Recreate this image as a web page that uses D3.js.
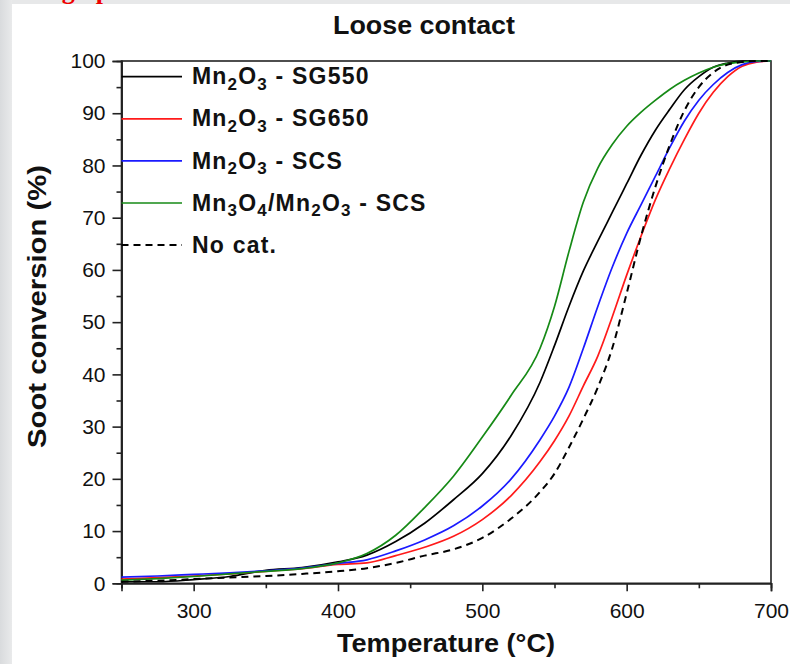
<!DOCTYPE html>
<html>
<head>
<meta charset="utf-8">
<script src="https://cdn.jsdelivr.net/npm/d3@7"></script>
<style>
  html, body { margin: 0; padding: 0; background: #fff; }
  svg { display: block; }
</style>
</head>
<body>
<div id="chart"></div>
<script>
// temperatures (°C) at which the curves were read
const temps = [250, 275, 300, 325, 350, 375, 400, 420, 440, 460, 480, 500, 520, 540, 550,
               560, 570, 580, 590, 600, 610, 620, 630, 640, 650, 660, 670, 680, 690, 700];

// soot conversion (%) for each sample
const sg550 = [0.3, 0.3, 0.7, 1.3, 2.5, 3.0, 4.1, 5.4, 8.0, 11.5, 16, 21, 28.3, 38.5, 45.5,
               53, 59.8, 65.5, 71, 76.5, 82, 86.8, 90.8, 94.5, 97, 98.8, 99.6, 100, 100, 100];
const sg650 = [0.8, 1.1, 1.4, 1.8, 2.3, 2.8, 3.6, 3.9, 5.3, 6.9, 9.0, 12.2, 16.8, 23.3, 27.3,
               32, 37.8, 43.5, 51, 59, 66.5, 73.5, 79.5, 85, 90, 94, 97, 99, 99.8, 100];
const scs = [1.2, 1.4, 1.7, 2.0, 2.4, 2.9, 3.8, 4.5, 6.2, 8.3, 11.0, 14.8, 20, 27.5, 32,
             37.5, 45, 53, 60.5, 67, 72.5, 78, 83.5, 88.5, 92.5, 95.5, 97.8, 99.3, 99.9, 100];
const mixScs = [0.6, 0.9, 1.3, 1.8, 2.3, 2.8, 3.9, 5.7, 9.2, 14.5, 20.5, 28, 36, 45, 53,
                63.5, 73, 79.5, 84, 87.5, 90.2, 92.5, 94.6, 96.3, 97.7, 98.8, 99.5, 99.8, 100, 100];
const noCat = [0.3, 0.5, 0.8, 1.1, 1.4, 1.8, 2.3, 2.9, 3.9, 5.3, 6.5, 8.7, 12.4, 17.5, 21,
               26, 31.5, 37.5, 45, 55.5, 66.5, 76, 84, 90.5, 95, 97.8, 99.3, 99.8, 100, 100];

const seriesNames = ["Mn_2O_3 - SG550", "Mn_2O_3 - SG650", "Mn_2O_3 - SCS", "Mn_3O_4/Mn_2O_3 - SCS", "No cat."];
const seriesColors = ["#000000", "#ff1a1a", "#1a1aff", "#168a16", "#000000"];
const seriesValues = [sg550, sg650, scs, mixScs, noCat];

const xTicks = [300, 400, 500, 600, 700];
const xMinor = [250, 350, 450, 550, 650];
const yTicks = [0, 10, 20, 30, 40, 50, 60, 70, 80, 90, 100];
const yMinor = [5, 15, 25, 35, 45, 55, 65, 75, 85, 95];

const width = 790;
const height = 664;
const plot = { left: 121.5, right: 771, top: 61, bottom: 583.3 };
const font = "'Liberation Sans', Arial, Helvetica, sans-serif";

const svg = d3.select("#chart")
    .append("svg")
    .attr("width", width)
    .attr("height", height)
    .style("font-family", font);

// slide background: grey strips on the left and top
const defs = svg.append("defs");
const grad = defs.append("linearGradient").attr("id", "leftStrip")
    .attr("x1", "0").attr("x2", "1").attr("y1", "0").attr("y2", "0");
grad.append("stop").attr("offset", "0%").attr("stop-color", "#d9dbdd");
grad.append("stop").attr("offset", "100%").attr("stop-color", "#e9eaeb");

svg.append("rect").attr("width", width).attr("height", 4).attr("fill", "#e7e8e9");
svg.append("rect").attr("width", 12).attr("height", height).attr("fill", "url(#leftStrip)");

// bit of red slide text cut by the top edge (as on the slide)
svg.append("text")
    .attr("x", 40)
    .attr("y", -1)
    .attr("font-family", "'Liberation Serif', 'DejaVu Serif', serif")
    .attr("font-weight", "bold")
    .attr("font-size", 26)
    .attr("fill", "#ee0000")
    .text("ing up");

const x = d3.scaleLinear().domain([250, 700]).range([plot.left, plot.right]);
const y = d3.scaleLinear().domain([0, 100]).range([plot.bottom, plot.top]);

// frame
svg.append("rect")
    .attr("x", plot.left)
    .attr("y", plot.top)
    .attr("width", plot.right - plot.left)
    .attr("height", plot.bottom - plot.top)
    .attr("fill", "none")
    .attr("stroke", "#222")
    .attr("stroke-width", 1.6);

// x axis
svg.append("g")
    .attr("transform", `translate(0,${plot.bottom})`)
    .call(d3.axisBottom(x).tickValues(xTicks).tickSize(8).tickPadding(12).tickFormat(d3.format("d")));
svg.append("g")
    .attr("transform", `translate(0,${plot.bottom})`)
    .call(d3.axisBottom(x).tickValues(xMinor).tickSize(5).tickFormat(""));

// y axis
svg.append("g")
    .attr("transform", `translate(${plot.left},0)`)
    .call(d3.axisLeft(y).tickValues(yTicks).tickSize(9).tickPadding(7).tickFormat(d3.format("d")));
svg.append("g")
    .attr("transform", `translate(${plot.left},0)`)
    .call(d3.axisLeft(y).tickValues(yMinor).tickSize(5).tickFormat(""));

svg.selectAll(".domain").attr("stroke", "#222").attr("stroke-width", 1.6);
svg.selectAll(".tick line").attr("stroke", "#222").attr("stroke-width", 1.6);
svg.selectAll(".tick text")
    .attr("font-family", font)
    .attr("font-size", 21)
    .attr("fill", "#111");

// curves
const line = d3.line()
    .x((d, i) => x(temps[i]))
    .y(d => y(d))
    .curve(d3.curveMonotoneX);

seriesValues.forEach((vals, i) => {
    svg.append("path")
        .datum(vals)
        .attr("d", line)
        .attr("fill", "none")
        .attr("stroke", seriesColors[i])
        .attr("stroke-width", i === 4 ? 2 : 1.7)
        .attr("stroke-dasharray", i === 4 ? "7,5" : null);
});

// legend
function addLabel(sel, label) {
    // underscore + digit -> subscript
    const parts = label.split(/(_\d)/).filter(p => p.length);
    let down = false;
    parts.forEach(p => {
        if (p.startsWith("_")) {
            sel.append("tspan").attr("font-size", 17).attr("dy", 5.5).text(p.slice(1));
            down = true;
        } else {
            sel.append("tspan").attr("dy", down ? -5.5 : 0).text(p);
            down = false;
        }
    });
}

const legendTop = 76.7;
const legendStep = 42.1;
seriesNames.forEach((name, i) => {
    const ly = legendTop + i * legendStep;
    svg.append("line")
        .attr("x1", plot.left)
        .attr("x2", 182)
        .attr("y1", ly)
        .attr("y2", ly)
        .attr("stroke", seriesColors[i])
        .attr("stroke-width", i === 4 ? 2 : 1.7)
        .attr("stroke-dasharray", i === 4 ? "7,5" : null);
    const t = svg.append("text")
        .attr("x", 192)
        .attr("y", ly + 7.6)
        .attr("font-size", 23)
        .attr("font-weight", "bold")
        .attr("letter-spacing", 1.2)
        .attr("fill", "#111");
    addLabel(t, name);
});

// title and axis titles
svg.append("text")
    .attr("x", 424)
    .attr("y", 34)
    .attr("text-anchor", "middle")
    .attr("font-size", 25)
    .attr("font-weight", "bold")
    .attr("textLength", 182)
    .attr("lengthAdjust", "spacingAndGlyphs")
    .attr("fill", "#111")
    .text("Loose contact");

svg.append("text")
    .attr("x", 446)
    .attr("y", 652)
    .attr("text-anchor", "middle")
    .attr("font-size", 25)
    .attr("font-weight", "bold")
    .attr("textLength", 218)
    .attr("lengthAdjust", "spacingAndGlyphs")
    .attr("fill", "#111")
    .text("Temperature (°C)");

svg.append("text")
    .attr("transform", "translate(46,306.5) rotate(-90)")
    .attr("text-anchor", "middle")
    .attr("font-size", 26)
    .attr("font-weight", "bold")
    .attr("textLength", 283)
    .attr("lengthAdjust", "spacingAndGlyphs")
    .attr("fill", "#111")
    .text("Soot conversion (%)");
</script>
</body>
</html>
